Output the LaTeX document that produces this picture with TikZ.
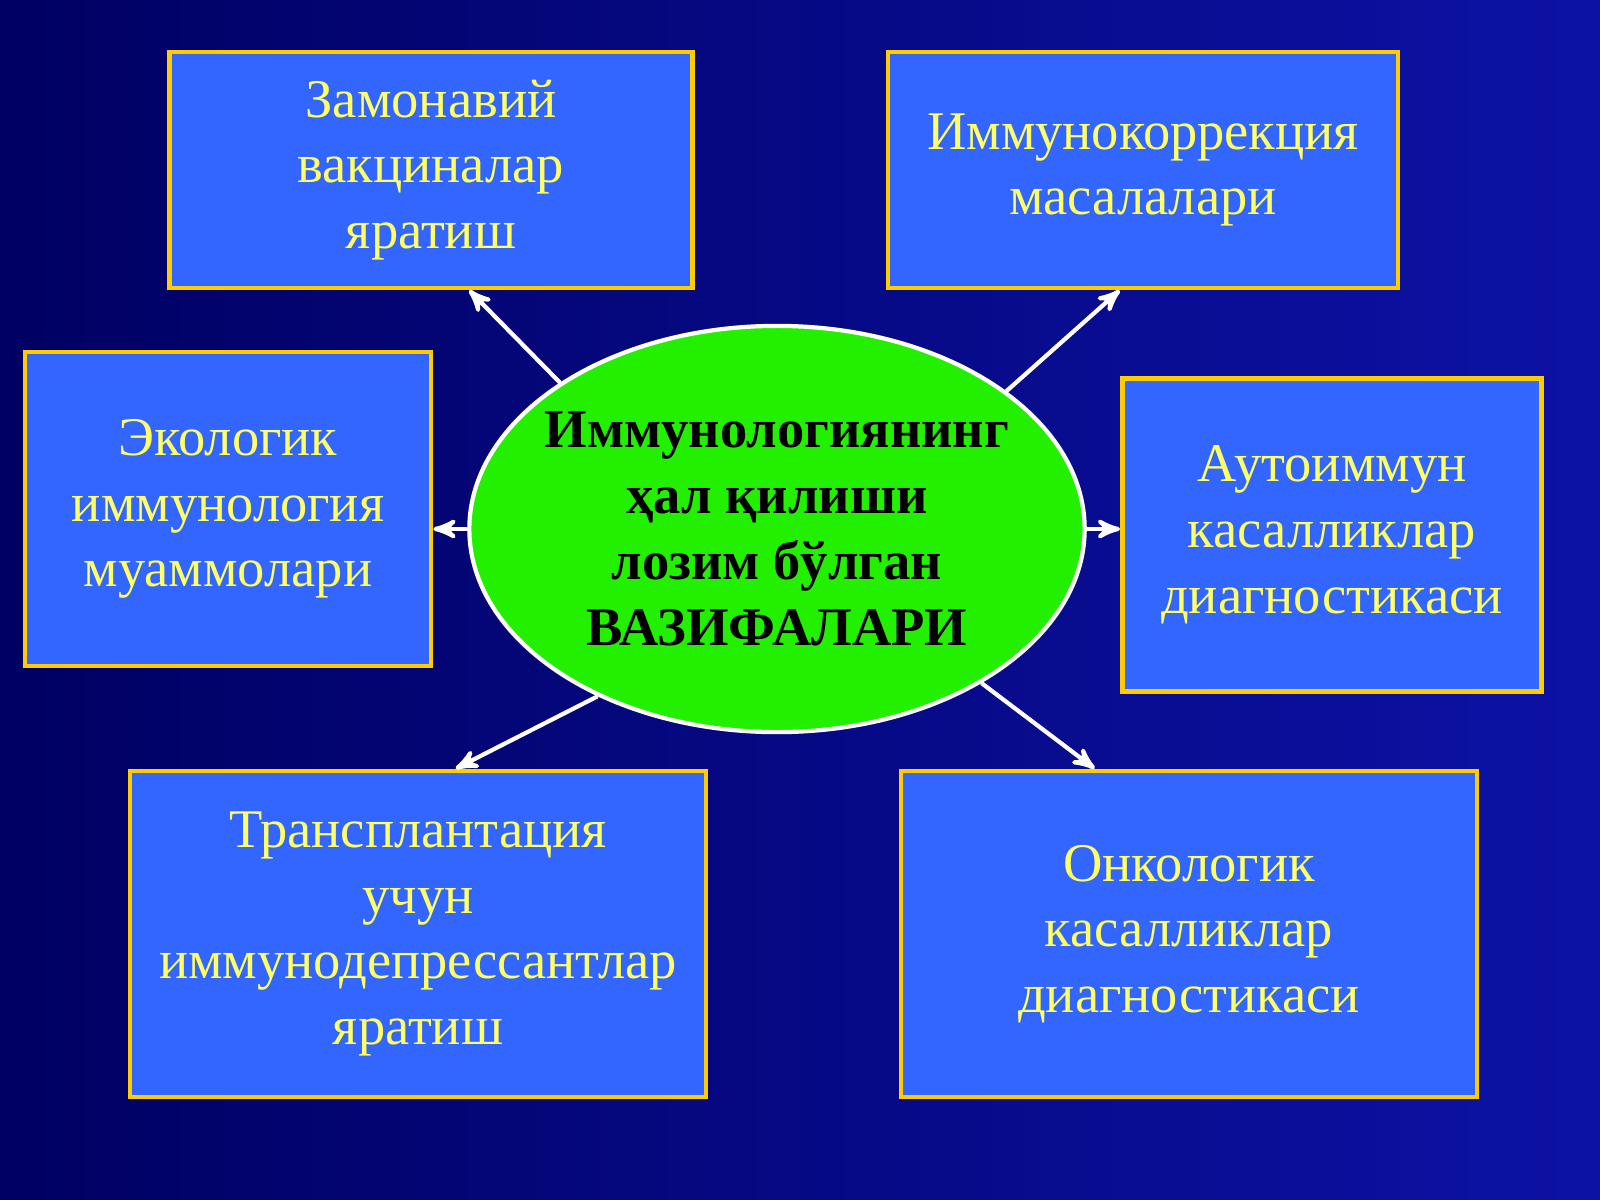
\documentclass[tikz,border=0pt]{standalone}
\usepackage{fontspec}
\setmainfont{Liberation Serif}
\usetikzlibrary{shapes, arrows}
\usetikzlibrary{positioning}
\definecolor{bgdark}{RGB}{0,0,98}
\definecolor{bglight}{RGB}{12,18,165}
\definecolor{boxblue}{RGB}{51,102,255}
\definecolor{gold}{RGB}{255,204,0}
\definecolor{lemon}{RGB}{255,255,102}
\definecolor{lime}{RGB}{34,240,0}
\tikzstyle{box} = [rectangle, draw = gold, line width = 1.3pt, fill = boxblue,
  text = lemon, align = center, inner sep = 0,
  font = \fontsize{15.5}{18.7}\selectfont]
\tikzstyle{hub} = [
  ellipse, draw = white, line width = 1.2pt, fill = lime,
  minimum width = 6.15cm, minimum height = 4.06cm,
  inner xsep = -0.7cm, inner ysep = -0.3cm,
  align = center, font = \fontsize{15.5}{18.7}\selectfont\bfseries
]
\tikzstyle{link} = [->, >=stealth', white, line width = 1.2pt]

\begin{document}
\begin{tikzpicture}[x = 0.01cm, y = -0.01cm]
      \fill [left color = bgdark, right color = bglight] (0, 0) rectangle (1600, 1200);
      \useasboundingbox (0, 0) rectangle (1600, 1200);

      \node [hub] (hub) at (777, 529) {Иммунологиянинг\\ ҳал қилиши\\ лозим бўлган\\ ВАЗИФАЛАРИ};

      \node [box, minimum width = 5.23cm, minimum height = 2.36cm] (box-1) at (431, 170) {Замонавий\\ вакциналар\\ яратиш};
      \node [box, minimum width = 5.10cm, minimum height = 2.36cm] (box-2) at (1143, 170) {Иммунокоррекция\\ масалалари};
      \node [box, minimum width = 4.06cm, minimum height = 3.14cm] (box-3) at (228, 509) {Экологик\\ иммунология\\ муаммолари};
      \node [box, minimum width = 4.19cm, minimum height = 3.13cm] (box-4) at (1332, 535) {Аутоиммун\\ касалликлар\\ диагностикаси};
      \node [box, minimum width = 5.76cm, minimum height = 3.26cm] (box-5) at (418, 934) {Трансплантация\\ учун\\ иммунодепрессантлар\\ яратиш};
      \node [box, minimum width = 5.76cm, minimum height = 3.26cm] (box-6) at (1189, 934) {Онкологик\\ касалликлар\\ диагностикаси};

      \draw [link] (hub.146) -- ([xshift = 3.02cm] box-1.south west);
      \draw [link] (hub.31) -- ([xshift = 2.34cm] box-2.south west);
      \draw [link] (hub.180) -- (hub.180 -| box-3.east);
      \draw [link] (hub.0) -- (hub.0 -| box-4.west);
      \draw [link] (hub.223) -- ([xshift = 3.28cm] box-5.north west);
      \draw [link] (hub.323) -- ([xshift = 1.96cm] box-6.north west);
    \end{tikzpicture}
\end{document}
